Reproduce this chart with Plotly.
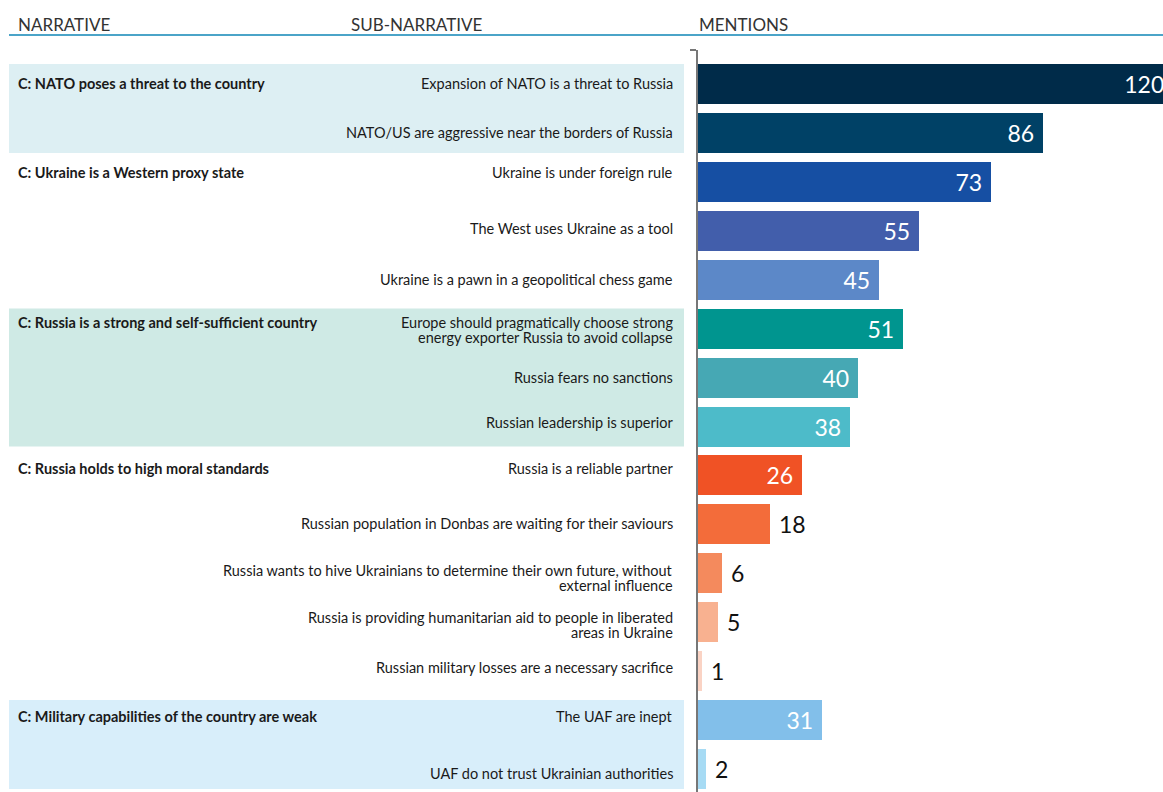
import plotly.graph_objects as go

# ---------------- data ----------------
narratives = [
    "C: NATO poses a threat to the country",
    "C: Ukraine is a Western proxy state",
    "C: Russia is a strong and self-sufficient country",
    "C: Russia holds to high moral standards",
    "C: Military capabilities of the country are weak",
]
group_sizes = [2, 3, 3, 5, 2]
sub_narratives = [
    "Expansion of NATO is a threat to Russia",
    "NATO/US are aggressive near the borders of Russia",
    "Ukraine is under foreign rule",
    "The West uses Ukraine as a tool",
    "Ukraine is a pawn in a geopolitical chess game",
    "Europe should pragmatically choose strong<br>energy exporter Russia to avoid collapse",
    "Russia fears no sanctions",
    "Russian leadership is superior",
    "Russia is a reliable partner",
    "Russian population in Donbas are waiting for their saviours",
    "Russia wants to hive Ukrainians to determine their own future, without<br>external influence",
    "Russia is providing humanitarian aid to people in liberated<br>areas in Ukraine",
    "Russian military losses are a necessary sacrifice",
    "The UAF are inept",
    "UAF do not trust Ukrainian authorities",
]
mentions = [120, 86, 73, 55, 45, 51, 40, 38, 26, 18, 6, 5, 1, 31, 2]
headers = ["NARRATIVE", "SUB-NARRATIVE", "MENTIONS"]

# ---------------- style ----------------
bar_colors = ["#002B49", "#004166", "#164FA3", "#425EAB", "#5C88C8",
              "#00958F", "#46A8B4", "#4DBBC9", "#F05225", "#F36C3A",
              "#F48A5D", "#F8B190", "#FAD3C4", "#82BFEA", "#A7DBF4"]
inside_flags = [True, True, True, True, True, True, True, True, True,
                False, False, False, False, True, False]
band_colors = {0: "#DDEFF3", 2: "#CFEAE5", 4: "#D8EEFA"}
label_nudge = [1, 0, 9, 2, 0, -1, 0, 4, 7, 1, -5, -3, 4, 4, -4]
LINE_SP = 15

FONT = "Lato"
W, H = 1163, 792
L = 698                      # plot left edge
T = 50                       # plot top edge
plot_w = W - L
plot_h = H - T
pitch = 48.93
first_c = 84
y_top = (T - first_c) / pitch
y_bot = (H - first_c) / pitch
px_per_unit = 4.012
x_max = plot_w / px_per_unit

n = len(sub_narratives)
ys = list(range(n))
texts = []
for v, ins in zip(mentions, inside_flags):
    if ins:
        pad = "\u00a0\u00a0" if v > x_max else "\u00a0"
        texts.append(f"{v}{pad}")
    else:
        texts.append(f"\u00a0{v}")
positions = ["inside" if ins else "outside" for ins in inside_flags]

fig = go.Figure()
fig.add_trace(go.Bar(
    x=mentions, y=ys, orientation="h",
    marker=dict(color=bar_colors, line=dict(width=0)),
    width=40 / pitch,
    text=texts, textposition=positions, insidetextanchor="end",
    textangle=0,
    insidetextfont=dict(family=FONT, size=23, color="white"),
    outsidetextfont=dict(family=FONT, size=23, color="#111111"),
    cliponaxis=True, hoverinfo="skip",
))


def px_x(page_x):
    return page_x - L


shapes = []
annotations = []
start = 0
for gi, (name, size) in enumerate(zip(narratives, group_sizes)):
    end = start + size - 1
    if gi in band_colors:
        shapes.append(dict(type="rect", xref="paper", yref="y",
                           x0=px_x(9) / plot_w, x1=px_x(684) / plot_w,
                           y0=start - 0.41, y1=end + 0.41,
                           fillcolor=band_colors[gi], line=dict(width=0), layer="below"))
    lines = sub_narratives[start].count("<br>") + 1
    annotations.append(dict(text=f"<b>{name}</b>", xref="paper", yref="y",
                            x=0, y=start, xanchor="left", yanchor="middle",
                            xshift=px_x(16),
                            yshift=label_nudge[start] + (lines - 1) / 2 * LINE_SP,
                            showarrow=False, align="left",
                            font=dict(family=FONT, size=14.5, color="#1a1a1a")))
    start = end + 1

for i, s in enumerate(sub_narratives):
    parts = s.split("<br>")
    k = len(parts)
    for j, part in enumerate(parts):
        annotations.append(dict(text=part, xref="paper", yref="y", x=0, y=i,
                                xanchor="right", yanchor="middle", xshift=px_x(675),
                                yshift=label_nudge[i] + ((k - 1) / 2 - j) * LINE_SP,
                                showarrow=False, align="right",
                                font=dict(family=FONT, size=14.5, color="#1a1a1a")))

head_x = [16, 349, 697]
for h, hx in zip(headers, head_x):
    annotations.append(dict(text=h, xref="paper", yref="paper", x=0, y=1,
                            xanchor="left", yanchor="middle", xshift=px_x(hx),
                            yshift=T - 24, showarrow=False,
                            font=dict(family=FONT, size=17, color="#333333")))
line_y = 1 + (T - 35) / plot_h
shapes.append(dict(type="line", xref="paper", yref="paper",
                   x0=px_x(9) / plot_w, x1=1, y0=line_y, y1=line_y,
                   line=dict(color="#4BA4C8", width=2)))

fig.update_layout(
    width=W, height=H,
    margin=dict(l=L, r=0, t=T, b=0),
    paper_bgcolor="white", plot_bgcolor="white",
    showlegend=False,
    bargap=0,
    xaxis=dict(range=[0, x_max], visible=False, fixedrange=True),
    yaxis=dict(range=[y_bot, y_top], showgrid=False, zeroline=False,
               showline=True, linecolor="#777777", linewidth=2,
               ticks="outside", ticklen=6, tickwidth=2, tickcolor="#777777",
               tickvals=[y_top], showticklabels=False, fixedrange=True),
    shapes=shapes, annotations=annotations,
)

fig.write_html(
    "out.html",
    config={"displayModeBar": False},
    post_script="document.body.style.margin='0';document.body.style.overflow='hidden';",
)
